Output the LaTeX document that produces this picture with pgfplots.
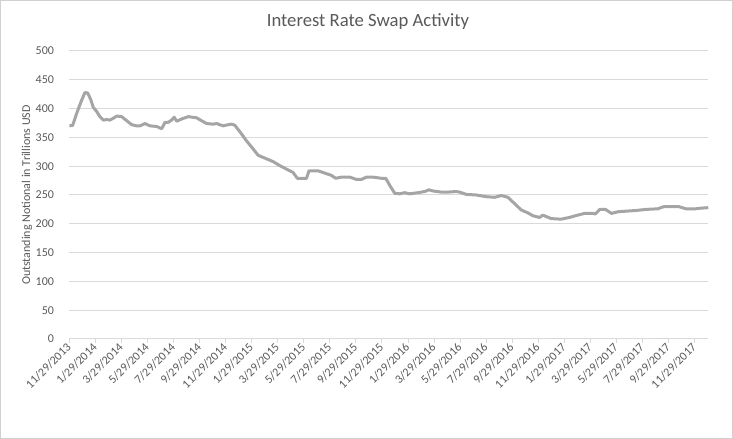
\documentclass[border=0pt]{standalone}
\usepackage{fontspec}
\setmainfont{Carlito}
\usepackage{pgfplots}
\pgfplotsset{compat=1.18}
\definecolor{linegray}{HTML}{A5A5A5}
\definecolor{gridgray}{HTML}{D9D9D9}
\definecolor{textgray}{HTML}{595959}
\definecolor{framegray}{HTML}{D0D0D0}
\begin{document}
\begin{tikzpicture}
\path[use as bounding box] (-52pt,-75pt) rectangle (497.8pt,254.25pt);
\draw[framegray, line width=0.75pt] (-51.6pt,-74.6pt) rectangle (497.4pt,253.85pt);
\begin{axis}[
  at={(0,0)}, anchor=south west,
  scale only axis, width=479.25pt, height=216pt,
  xmin=0, xmax=49.05, ymin=0, ymax=500,
  ytick={0,50,...,500},
  xtick={0,2,...,48},
  xticklabels={11/29/2013,1/29/2014,3/29/2014,5/29/2014,7/29/2014,9/29/2014,11/29/2014,1/29/2015,3/29/2015,5/29/2015,7/29/2015,9/29/2015,11/29/2015,1/29/2016,3/29/2016,5/29/2016,7/29/2016,9/29/2016,11/29/2016,1/29/2017,3/29/2017,5/29/2017,7/29/2017,9/29/2017,11/29/2017},
  axis x line*=bottom, axis y line*=left,
  x axis line style={gridgray, line width=0.75pt, -},
  y axis line style={draw=none},
  ytick style={draw=none},
  xtick style={gridgray, line width=0.75pt},
  tick align=outside, major tick length=3pt,
  ymajorgrids, grid style={gridgray, line width=0.75pt},
  tick label style={font=\fontsize{9}{11}\selectfont, text=textgray},
  yticklabel style={xshift=-5pt},
  xticklabel style={rotate=45, anchor=east, xshift=2pt, yshift=-1pt},
  /pgf/number format/assume math mode=true,
  ylabel={Outstanding Notional in Trillions USD},
  ylabel style={at={(axis description cs:-0.0662,0.5)}, anchor=center, font=\fontsize{9}{11}\selectfont, text=textgray},
]
\addplot[linegray, line width=2.25pt, line join=round, no marks] table {
x y
0.00 370
0.26 371
0.57 392
0.90 412
1.20 428
1.41 427
1.64 416
1.84 402
2.10 395
2.35 386
2.61 380
2.87 381
3.12 380
3.43 384
3.63 387
4.02 386
4.40 379
4.79 372
5.17 370
5.42 370
5.81 374
6.19 370
6.70 369
7.09 365
7.34 376
7.59 376
7.85 380
8.05 385
8.24 378
8.62 382
9.13 386
9.77 384
10.15 379
10.54 374
11.04 373
11.30 374
11.81 370
12.19 372
12.45 373
12.71 371
13.22 356
13.60 344
14.11 330
14.49 319
15.01 314
15.64 308
16.16 301
16.67 295
17.18 289
17.50 279
17.82 279
18.21 279
18.40 292
19.10 292
19.61 288
20.12 284
20.45 279
20.89 281
21.53 281
22.04 277
22.42 277
22.81 281
23.31 281
23.96 279
24.29 279
24.59 267
24.98 253
25.36 252
25.74 254
26.13 252
26.76 254
27.28 256
27.61 259
27.91 257
28.56 255
29.06 255
29.71 256
29.96 255
30.48 251
31.24 250
32.01 247
32.65 246
33.16 249
33.67 246
34.18 235
34.69 224
35.20 219
35.58 214
36.10 211
36.35 215
36.99 209
37.76 208
38.39 211
39.03 215
39.55 218
40.18 218
40.37 217
40.73 225
41.16 225
41.62 218
42.15 221
43.46 223
44.30 225
45.17 226
45.68 230
46.75 230
47.34 226
48.06 226
48.44 227
49.05 228
};
\end{axis}
\node[text=textgray, font=\fontsize{14}{17}\selectfont] at (224pt,237.75pt) {Interest Rate Swap Activity};
\end{tikzpicture}
\end{document}
